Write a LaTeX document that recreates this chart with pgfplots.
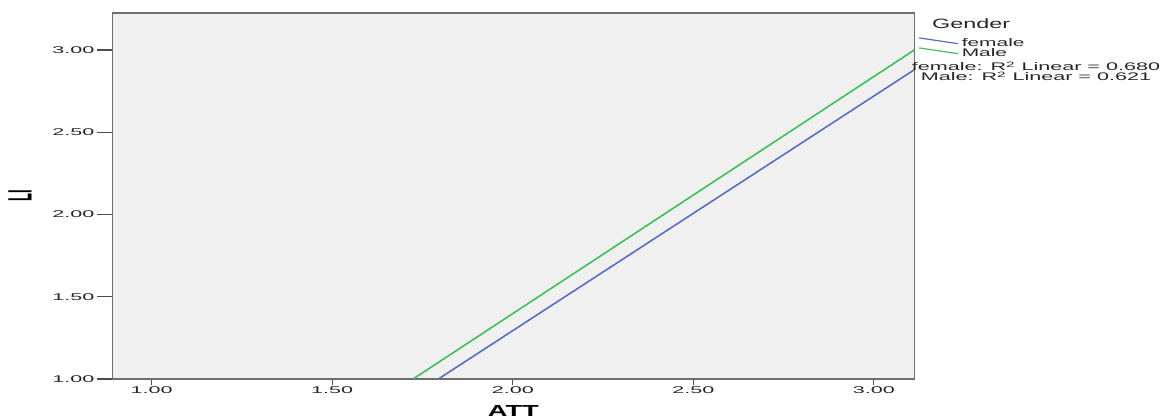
\documentclass[border=0pt]{standalone}
\usepackage{fontspec}
\setmainfont{Liberation Sans}
\usepackage{graphicx}
\usepackage{pgfplots}
\pgfplotsset{compat=1.18}
\definecolor{bgc}{HTML}{F0F0F0}
\definecolor{blueL}{HTML}{5A6BC2}
\definecolor{greenL}{HTML}{3FBF5A}
\definecolor{framec}{HTML}{6E6E6E}
\begin{document}
\begin{tikzpicture}
\begin{axis}[name=ax, at={(0,0)}, anchor=south west,
  scale only axis, width=802pt, height=366pt,
  xmin=0.891, xmax=3.112, ymin=1, ymax=3.225,
  axis background/.style={fill=bgc},
  axis line style={draw=framec, line width=1.4pt},
  xtick={1,1.5,2,2.5,3}, ytick={1,1.5,2,2.5,3},
  tick align=outside, xtick pos=bottom, ytick pos=left,
  major tick length=6pt,
  ytick style={/pgfplots/major tick length=15pt},
  tick style={draw=black!70, line width=1.1pt},
  /pgf/number format/.cd, fixed, fixed zerofill, precision=2, assume math mode=true, /pgfplots/.cd,
  xticklabel={\scalebox{2.2}[1]{\pgfmathprintnumber{\tick}}},
  yticklabel={\scalebox{2.2}[1]{\pgfmathprintnumber{\tick}}},
  ticklabel style={font=\fontsize{9.8}{10}\selectfont, text=black!85},
  xticklabel style={inner sep=1pt},
  yticklabel style={inner sep=1.5pt, xshift=-10.3pt},
  xlabel={ATT}, ylabel={LI},
  xlabel style={at={(axis description cs:0.5,-0.07295)}, anchor=north, inner sep=0pt, font=\fontsize{16}{16}\selectfont\bfseries, xscale=1.7},
  ylabel style={at={(axis description cs:-0.1151,0.5)}, anchor=center, inner sep=0pt, font=\fontsize{13}{13}\selectfont\bfseries, yscale=2.6},
  legend style={at={(axis description cs:1.00461,0.929)}, anchor=north west, draw=none, fill=none, inner sep=0pt, row sep=2pt, font=\fontsize{11}{11}\selectfont, nodes={inner sep=0pt, text height=7pt, text depth=1pt, text=black!85}, cells={anchor=west}},
  legend image code/.code={\draw[#1, line width=1.2pt, overlay] (0pt,5.3pt)--(39pt,-0.5pt); \path (0pt,0pt) (42pt,0pt);},
]
\addplot[blueL, line width=1.6pt] coordinates {(1.794,1) (3.112,2.88)};
\addlegendentry{\scalebox{1.9}[1]{female}}
\addplot[greenL, line width=1.6pt] coordinates {(1.724,1) (3.112,3.00)};
\addlegendentry{\scalebox{1.9}[1]{Male}}
\end{axis}
\node[anchor=base west, inner sep=0pt, font=\fontsize{13.5}{13.5}\selectfont, text=black!85] at ([xshift=17.7pt, yshift=-16pt]ax.north east) {\scalebox{1.73}[1]{Gender}};
\node[anchor=base, inner sep=0pt, font=\fontsize{11}{11}\selectfont, text=black!85] at ([xshift=121.7pt, yshift=-58pt]ax.north east) {\scalebox{1.96}[1]{female: R\textsuperscript{2} Linear = 0.680}};
\node[anchor=base, inner sep=0pt, font=\fontsize{11}{11}\selectfont, text=black!85] at ([xshift=121.7pt, yshift=-68pt]ax.north east) {\scalebox{1.96}[1]{Male: R\textsuperscript{2} Linear = 0.621}};
\pgfresetboundingbox
\path[use as bounding box] ([shift={(-112.3pt,-40pt)}]ax.south west) rectangle ([shift={(248.7pt,13pt)}]ax.north east);
\end{tikzpicture}
\end{document}
